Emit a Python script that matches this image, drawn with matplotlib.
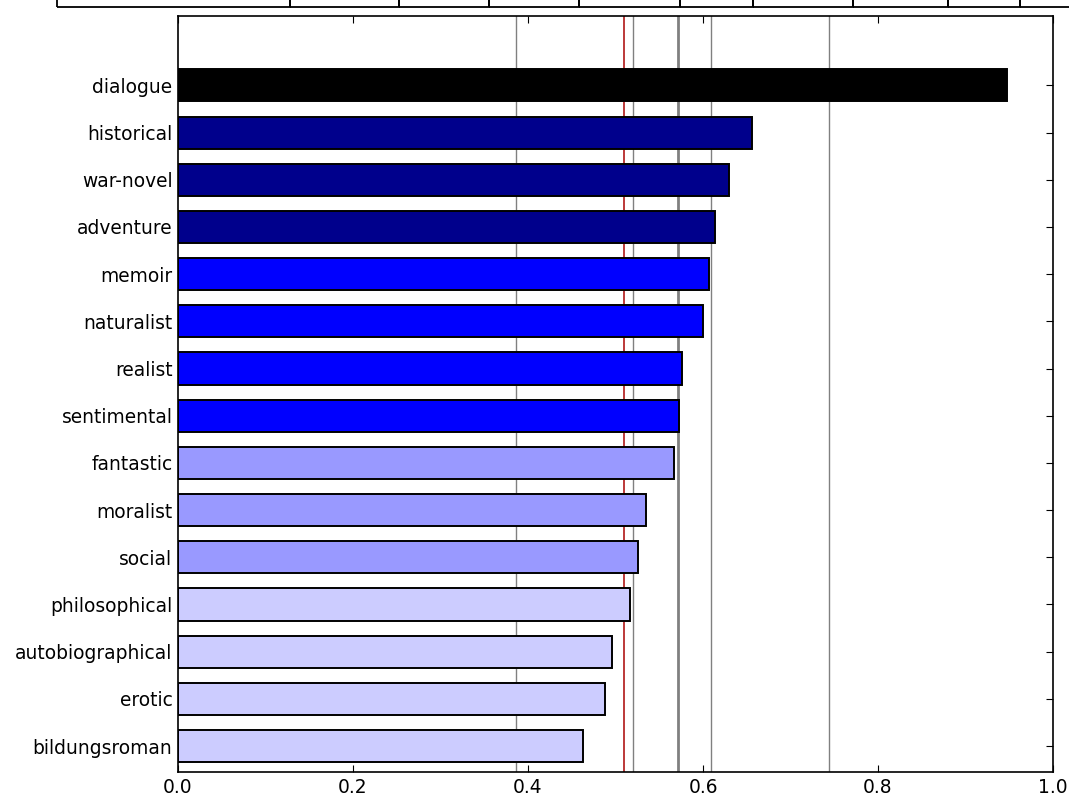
import numpy as np
import matplotlib
matplotlib.use("Agg")
import matplotlib.pyplot as plt

# genre scores, top to bottom
genres = ["dialogue", "historical", "war-novel", "adventure", "memoir",
          "naturalist", "realist", "sentimental", "fantastic", "moralist",
          "social", "philosophical", "autobiographical", "erotic",
          "bildungsroman"]
scores = [0.947, 0.656, 0.630, 0.614, 0.607, 0.600, 0.576, 0.573, 0.567,
          0.535, 0.526, 0.517, 0.496, 0.488, 0.463]
tiers = [0, 1, 1, 1, 2, 2, 2, 2, 3, 3, 3, 4, 4, 4, 4]

# reference thresholds
baseline = 0.510
thresholds = [0.386, 0.520, 0.571, 0.609, 0.744]

tier_colors = {0: "#000000", 1: "#00008c", 2: "#0000ff", 3: "#9999ff", 4: "#ccccff"}

fig = plt.figure(figsize=(10.69, 7.96), dpi=100)
ax = fig.add_axes([178/1069, 1 - 772/796, 875/1069, 756/796])

ypos = np.arange(len(genres))[::-1]
for t in thresholds:
    lw = 2.0 if abs(t - 0.571) < 1e-6 else 1.0
    ax.axvline(t, color="#808080", lw=lw, zorder=0.5)
ax.axvline(baseline, color="#b01818", lw=1.2, zorder=0.5)

ax.barh(ypos, scores, height=0.68, color=[tier_colors[t] for t in tiers],
        edgecolor="black", linewidth=1.4, zorder=2)

ax.set_xlim(0, 1.0)
ax.set_ylim(-0.55, 15.47)
ax.set_yticks(ypos)
ax.set_yticklabels(genres, fontsize=13.4)
ax.set_xticks(np.arange(0, 1.01, 0.2))
ax.set_xticklabels([f"{v:.1f}" for v in np.arange(0, 1.01, 0.2)], fontsize=13.4)
ax.tick_params(direction="in", length=5, width=0.8, top=True, right=True, pad=4)
for s in ax.spines.values():
    s.set_linewidth(1.2)

# cropped summary table sitting above the plot
edges = [57, 290, 399, 489, 579, 680, 753, 853, 948, 1020, 1100]
widths = [(b - a) / 875 for a, b in zip(edges[:-1], edges[1:])]
tab = ax.table(cellText=[[""] * len(widths)], colWidths=widths,
               bbox=[(57 - 178) / 875, (772 - 7) / 756, sum(widths), 40 / 756])
for cell in tab.get_celld().values():
    cell.set_linewidth(1.3)
    cell.set_edgecolor("black")
    cell.set_facecolor("none")
tab.set_clip_on(False)

fig.savefig("out.png", dpi=100)
